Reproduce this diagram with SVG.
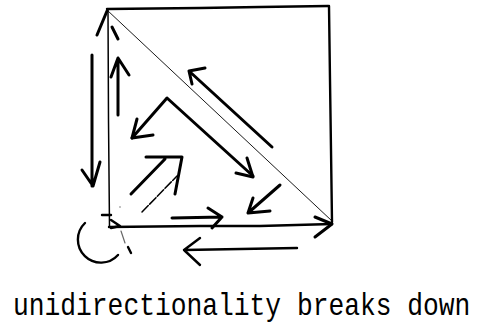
<svg xmlns="http://www.w3.org/2000/svg" width="480" height="329" viewBox="0 0 480 329">
<style>
.k{fill:none;stroke:#000;stroke-linecap:round;stroke-linejoin:round}
.t{stroke-width:3}
.m{stroke-width:2.4}
.n{stroke-width:1.5}
.h{stroke-width:0.9}
.f{stroke-width:1.2;stroke:#666}
.lbl{font-family:"Liberation Mono","DejaVu Sans Mono",monospace;font-size:26.3px;fill:#000}
</style>
<rect width="480" height="329" fill="#fff"/>
<g id="square">
<path class="k m" d="M107,9 L200,8 L260,7 L328,6"/>
<path class="k m" d="M329,6 L330,80 L331,150 L332,222"/>
<path class="k m" d="M109,227 L200,226 L260,226 L332,224"/>
<path class="k n" d="M108,10 L108.5,120 L109.5,227"/>
<path class="k h" d="M107,10 L332,221"/>
</g>
<g id="connectors">
<path class="k t" d="M97,35 L107,11 M112,27 L118,39"/>
<path class="k t" d="M315,217 L332,224 L315,237"/>
<path class="k t" d="M92,55 L92,186 M82,170 L93,186 L100,162"/>
<path class="k t" d="M118,115 L118,58 M111,77 L118,58 L129,75"/>
<path class="k t" d="M132,138 L167,98 L253,176"/>
<path class="k t" d="M137,119 L132,138 L153,135"/>
<path class="k t" d="M247,158 L253,177 L236,173"/>
<path class="k t" d="M272,147 L189,71 M205,68 L189,71 L192,84"/>
<path class="k t" d="M280,185 L248,213 M253,198 L248,213 L270,211"/>
<path class="k t" d="M131,194 L165,159 M146,157 L182,157 L175,194"/>
<path class="k n" d="M142,212 L177,176" stroke-dasharray="9 2"/>
<path class="k t" d="M172,218 L222,217 M208,208 L222,217 L212,228"/>
<path class="k m" d="M297,248 L184,250 M200,238 L184,250 L200,265"/>
<path class="k m" d="M85,223 A23,23 0 1 0 118,255"/>
<path class="k m" d="M102,215 L111,215"/>
<path class="k m" d="M111,220 L120,226 L111,228"/>
<path class="k f" d="M121,231 L125,243"/>
<path class="k m" d="M128,247 L131,253"/>
<circle cx="120" cy="207" r="0.8" fill="#777"/>
</g>
<text class="lbl" x="13" y="315" transform="matrix(1,0,0,1.2,0,-63)">unidirectionality breaks down</text>
</svg>
